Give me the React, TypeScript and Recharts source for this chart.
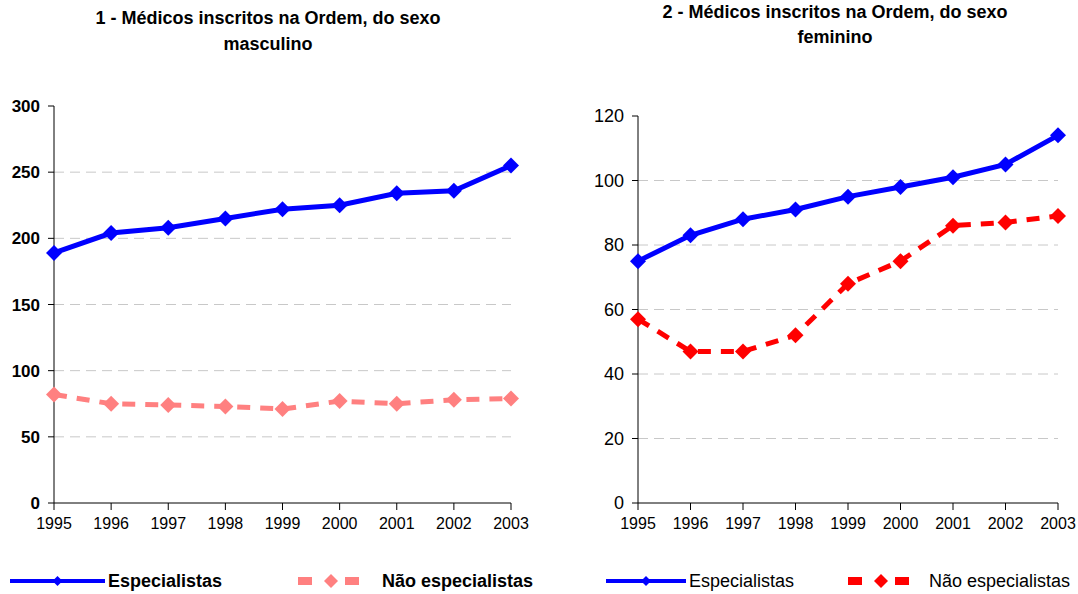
import { CartesianGrid, Line, LineChart, XAxis, YAxis } from "recharts";

const years = ["1995", "1996", "1997", "1998", "1999", "2000", "2001", "2002", "2003"];

// chart 1 - masculino
const maleSpecialists = [189, 204, 208, 215, 222, 225, 234, 236, 255];
const maleNonSpecialists = [82, 75, 74, 73, 71, 77, 75, 78, 79];
const maleTicks = [0, 50, 100, 150, 200, 250, 300];

// chart 2 - feminino
const femaleSpecialists = [75, 83, 88, 91, 95, 98, 101, 105, 114];
const femaleNonSpecialists = [57, 47, 47, 52, 68, 75, 86, 87, 89];
const femaleTicks = [0, 20, 40, 60, 80, 100, 120];

const FONT = '"Liberation Sans", Arial, sans-serif';

const maleData = years.map((year, i) => ({
  year,
  esp: maleSpecialists[i],
  nao: maleNonSpecialists[i]
}));

const femaleData = years.map((year, i) => ({
  year,
  esp: femaleSpecialists[i],
  nao: femaleNonSpecialists[i]
}));

function Diamond(props: any) {
  const { cx, cy, fill, r = 7 } = props;
  if (cx == null || cy == null) return null;
  return (
    <polygon
      points={`${cx},${cy - r} ${cx + r},${cy} ${cx},${cy + r} ${cx - r},${cy}`}
      fill={fill}
    />
  );
}

interface LegendProps {
  nonColor: string;
  bold: boolean;
  espX: number;
  espLine: number;
  naoX: number;
  naoTextX: number;
}

function ChartLegend({ nonColor, bold, espX, espLine, naoX, naoTextX }: LegendProps) {
  const weight = bold ? "bold" : "normal";
  return (
    <svg width={540} height={24} style={{ display: "block" }}>
      <line x1={espX} x2={espX + espLine} y1={12} y2={12} stroke="#0000ff" strokeWidth={4} />
      <Diamond cx={espX + espLine / 2} cy={12} r={5} fill="#0000ff" />
      <text x={espX + espLine + 3} y={18} fontSize={18} fontWeight={weight} fontFamily={FONT} fill="#000">
        Especialistas
      </text>
      <rect x={naoX} y={8} width={14} height={8} fill={nonColor} />
      <Diamond cx={naoX + 33} cy={12} r={7} fill={nonColor} />
      <rect x={naoX + 47} y={8} width={14} height={8} fill={nonColor} />
      <text x={naoTextX} y={18} fontSize={18} fontWeight={weight} fontFamily={FONT} fill="#000">
        Não especialistas
      </text>
    </svg>
  );
}

interface PanelProps {
  data: { year: string; esp: number; nao: number }[];
  ticks: number[];
  width: number;
  yAxisWidth: number;
  top: number;
  right: number;
  nonColor: string;
  boldY: boolean;
  yFont: number;
}

function Panel({ data, ticks, width, yAxisWidth, top, right, nonColor, boldY, yFont }: PanelProps) {
  const max = ticks[ticks.length - 1];
  return (
    <LineChart
      width={width}
      height={594}
      data={data}
      margin={{ top, right, left: 0, bottom: 0 }}
    >
      <CartesianGrid
        vertical={false}
        horizontalValues={ticks.slice(1, -1)}
        stroke="#c8c8c8"
        strokeDasharray="10 6"
      />
      <XAxis
        dataKey="year"
        height={91}
        stroke="#000"
        tickSize={7}
        tickMargin={8}
        tick={{ fontSize: 16, fill: "#000", fontFamily: FONT }}
        interval={0}
      />
      <YAxis
        width={yAxisWidth}
        domain={[0, max]}
        ticks={ticks}
        stroke="#000"
        tickSize={6}
        tickMargin={8}
        tick={{ fontSize: yFont, fill: "#000", fontFamily: FONT, fontWeight: boldY ? "bold" : "normal" }}
        interval={0}
      />
      <Line
        dataKey="nao"
        stroke={nonColor}
        strokeWidth={5}
        strokeDasharray="13 10"
        dot={<Diamond fill={nonColor} r={8} />}
        activeDot={false}
        isAnimationActive={false}
      />
      <Line
        dataKey="esp"
        stroke="#0000ff"
        strokeWidth={5}
        dot={<Diamond fill="#0000ff" r={8} />}
        activeDot={false}
        isAnimationActive={false}
      />
    </LineChart>
  );
}

const titleStyle: React.CSSProperties = {
  position: "absolute",
  fontFamily: FONT,
  fontWeight: "bold",
  fontSize: 18,
  textAlign: "center",
  color: "#000",
  width: 500
};

export default function App() {
  return (
    <div
      style={{
        position: "fixed",
        left: 0,
        top: 0,
        width: 1078,
        height: 594,
        background: "#fff",
        overflow: "hidden"
      }}
    >
      <div style={{ position: "absolute", left: 0, top: 0 }}>
        <Panel
          data={maleData}
          ticks={maleTicks}
          width={540}
          yAxisWidth={54}
          top={106}
          right={29}
          nonColor="#ff8080"
          boldY
          yFont={17}
        />
      </div>
      <div style={{ position: "absolute", left: 560, top: 0 }}>
        <Panel
          data={femaleData}
          ticks={femaleTicks}
          width={518}
          yAxisWidth={78}
          top={116}
          right={20}
          nonColor="#ff0000"
          boldY={false}
          yFont={18}
        />
      </div>
      <div style={{ position: "absolute", left: 0, top: 569 }}>
        <ChartLegend nonColor="#ff8080" bold espX={10} espLine={95} naoX={298} naoTextX={382} />
      </div>
      <div style={{ position: "absolute", left: 560, top: 569 }}>
        <ChartLegend nonColor="#ff0000" bold={false} espX={46} espLine={80} naoX={288} naoTextX={369} />
      </div>
      <div style={{ ...titleStyle, left: 18, top: 5, lineHeight: "26px" }}>
        1 - Médicos inscritos na Ordem, do sexo
        <br />
        masculino
      </div>
      <div style={{ ...titleStyle, left: 585, top: 0, lineHeight: "25px" }}>
        2 - Médicos inscritos na Ordem, do sexo
        <br />
        feminino
      </div>
    </div>
  );
}
